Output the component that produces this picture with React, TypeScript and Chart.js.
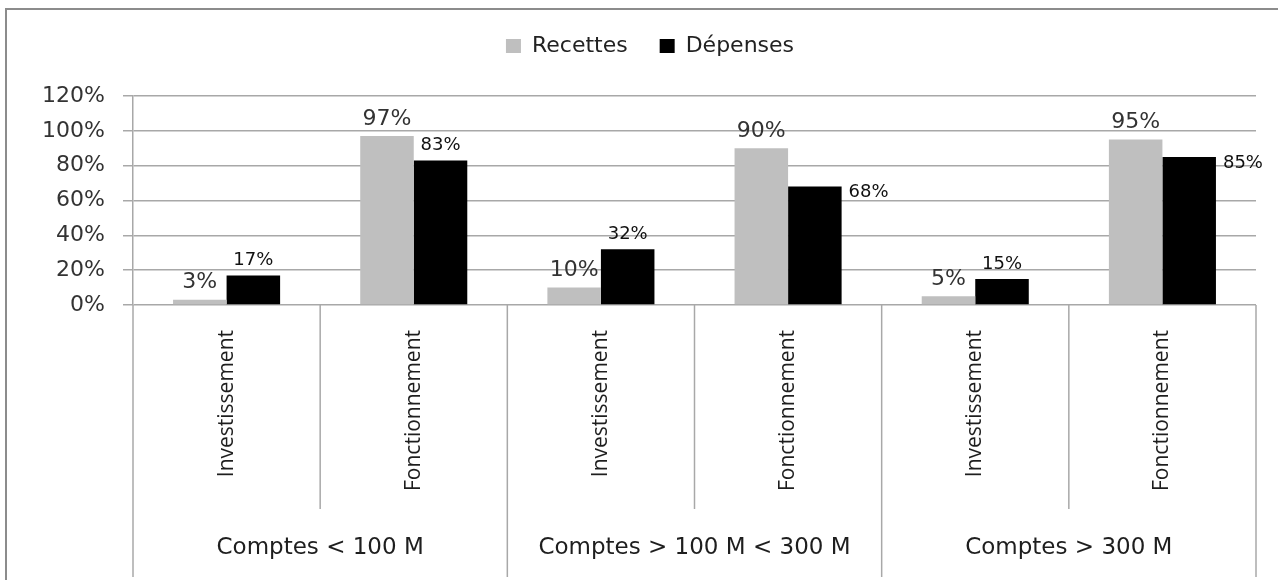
import React, { useEffect, useRef } from 'react';
import { Chart, registerables } from 'chart.js';

Chart.register(...registerables);

const categories = ['Investissement', 'Fonctionnement', 'Investissement', 'Fonctionnement', 'Investissement', 'Fonctionnement'];
const groups = ['Comptes < 100 M', 'Comptes > 100 M < 300 M', 'Comptes > 300 M'];
const seriesNames = ['Recettes', 'Dépenses'];
const recettes = [3, 97, 10, 90, 5, 95];
const depenses = [17, 83, 32, 68, 15, 85];
const yMax = 120;
const yStep = 20;
// where each Dépenses value label sits relative to its bar
const depLabelSide = ['top', 'top', 'top', 'right', 'top', 'right'];

const GRID = '#a8a8a8';

const framePlugin = {
  id: 'frame',
  beforeDraw(chart: any) {
    const { ctx, width, height } = chart;
    ctx.save();
    ctx.fillStyle = '#ffffff';
    ctx.fillRect(0, 0, width, height);
    ctx.strokeStyle = '#8c8c8c';
    ctx.lineWidth = 2;
    ctx.beginPath();
    ctx.moveTo(6, height);
    ctx.lineTo(6, 9);
    ctx.lineTo(width, 9);
    ctx.stroke();
    ctx.restore();
  },
};

const axisDecorPlugin = {
  id: 'axisDecor',
  afterDraw(chart: any) {
    const { ctx, chartArea, height } = chart;
    const xs = chart.scales.x;
    const n = categories.length;
    const bounds: number[] = [];
    for (let i = 0; i <= n; i++) {
      if (i === 0) bounds.push(chartArea.left);
      else if (i === n) bounds.push(chartArea.right);
      else bounds.push((xs.getPixelForValue(i - 1) + xs.getPixelForValue(i)) / 2);
    }
    ctx.save();
    ctx.strokeStyle = GRID;
    ctx.lineWidth = 1.5;
    bounds.forEach((bx, i) => {
      const bottom = i % 2 === 0 ? height - 3 : chartArea.bottom + 204;
      ctx.beginPath();
      ctx.moveTo(bx, chartArea.bottom);
      ctx.lineTo(bx, bottom);
      ctx.stroke();
    });
    ctx.fillStyle = '#1e1e1e';
    ctx.font = '23px "DejaVu Sans"';
    ctx.textAlign = 'center';
    ctx.textBaseline = 'middle';
    groups.forEach((g, gi) => {
      const cx = (bounds[gi * 2] + bounds[gi * 2 + 2]) / 2;
      ctx.fillText(g, cx, chartArea.bottom + 243);
    });
    ctx.restore();
  },
};

const valueLabelPlugin = {
  id: 'valueLabels',
  afterDatasetsDraw(chart: any) {
    const { ctx } = chart;
    ctx.save();
    const metaR = chart.getDatasetMeta(0);
    metaR.data.forEach((bar: any, i: number) => {
      const { x, y } = bar.getProps(['x', 'y'], true);
      ctx.font = '22px "DejaVu Sans"';
      ctx.fillStyle = '#333333';
      ctx.textAlign = 'center';
      ctx.textBaseline = 'bottom';
      ctx.fillText(recettes[i] + '%', x, y - 6);
    });
    const metaD = chart.getDatasetMeta(1);
    metaD.data.forEach((bar: any, i: number) => {
      const { x, y, width } = bar.getProps(['x', 'y', 'width'], true);
      ctx.font = '18px "DejaVu Sans"';
      ctx.fillStyle = '#111111';
      if (depLabelSide[i] === 'right') {
        ctx.textAlign = 'left';
        ctx.textBaseline = 'middle';
        ctx.fillText(depenses[i] + '%', x + width / 2 + 7, y + 6);
      } else {
        ctx.textAlign = 'center';
        ctx.textBaseline = 'bottom';
        ctx.fillText(depenses[i] + '%', x, y - 6);
      }
    });
    ctx.restore();
  },
};

export default function App() {
  const ref = useRef<HTMLCanvasElement>(null);

  useEffect(() => {
    if (!ref.current) return;
    const chart = new Chart(ref.current, {
      type: 'bar',
      data: {
        labels: categories,
        datasets: [
          {
            label: seriesNames[0],
            data: recettes,
            backgroundColor: '#bfbfbf',
            borderWidth: 0,
            categoryPercentage: 0.572,
            barPercentage: 1,
          },
          {
            label: seriesNames[1],
            data: depenses,
            backgroundColor: '#000000',
            borderWidth: 0,
            categoryPercentage: 0.572,
            barPercentage: 1,
          },
        ],
      },
      options: {
        animation: false,
        responsive: false,
        maintainAspectRatio: false,
        layout: { padding: { top: 3, right: 22, bottom: 0, left: 44 } },
        plugins: {
          legend: {
            position: 'top',
            labels: {
              boxWidth: 15,
              boxHeight: 14,
              padding: 32,
              color: '#222222',
              font: { family: 'DejaVu Sans', size: 22 },
            },
          },
          title: {
            display: true,
            text: '',
            position: 'top',
            weight: 500,
            padding: 0,
            font: { size: 29, lineHeight: 1 },
          } as any,
          tooltip: { enabled: false },
        },
        scales: {
          x: {
            grid: { display: false },
            border: { display: false },
            ticks: {
              autoSkip: false,
              minRotation: 90,
              maxRotation: 90,
              padding: 17,
              color: '#1e1e1e',
              font: { family: 'Open Sans', size: 21 },
            },
            afterFit: (s: any) => {
              s.height = 275;
            },
          } as any,
          y: {
            min: 0,
            max: yMax,
            ticks: {
              stepSize: yStep,
              padding: 18,
              color: '#333333',
              font: { family: 'DejaVu Sans', size: 22 },
              callback: (v: any) => v + '%',
            },
            grid: { color: GRID, lineWidth: 1.5, tickLength: 10, drawTicks: true },
            border: { display: true, color: GRID, width: 1.5 },
            afterFit: (s: any) => {
              s.width = 89;
            },
          } as any,
        },
      },
      plugins: [framePlugin, axisDecorPlugin, valueLabelPlugin],
    });
    return () => chart.destroy();
  }, []);

  return (
    <div style={{ position: 'fixed', left: 0, top: 0, width: 1278, height: 580, overflow: 'hidden' }}>
      <canvas ref={ref} width={1278} height={580} style={{ display: 'block', width: 1278, height: 580 }} />
    </div>
  );
}
